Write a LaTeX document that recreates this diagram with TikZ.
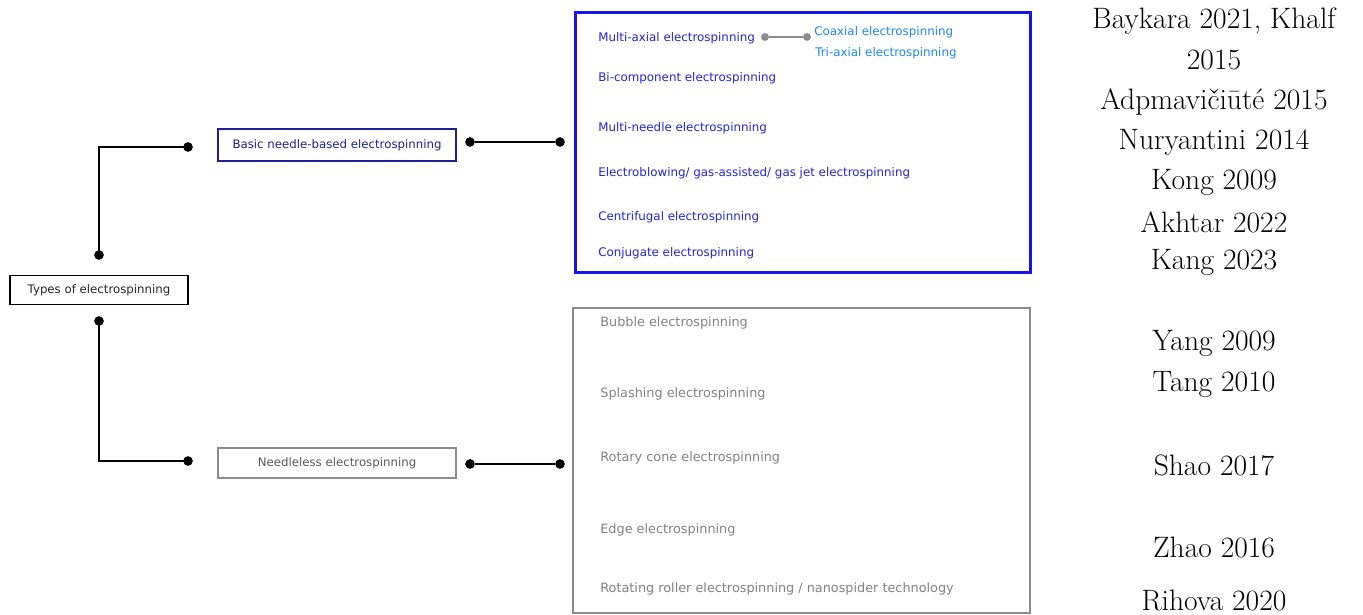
\documentclass[tikz,border=0pt]{standalone}
\usepackage{fontspec}
\newfontfamily\diafont{DejaVu Sans}
\usetikzlibrary{positioning}
\definecolor{navyline}{RGB}{30,30,150}
\definecolor{brightblue}{RGB}{20,20,235}
\definecolor{itemblue}{RGB}{35,35,225}
\definecolor{skyblue}{RGB}{25,135,250}
\definecolor{greyline}{RGB}{140,140,140}
\definecolor{greytext}{RGB}{130,130,130}

\begin{document}
\begin{tikzpicture}[x=0.02cm, y=-0.02cm,
  box/.style={rectangle, draw, line width=1pt, inner sep=0pt, font=\diafont\fontsize{6.7}{8}\selectfont},
  item/.style={anchor=west, inner sep=0pt, font=\diafont\fontsize{6.75}{8}\selectfont, text=itemblue},
  gitem/.style={anchor=west, inner sep=0pt, font=\diafont\fontsize{7.3}{8}\selectfont, text=greytext},
  dot/.style={circle, fill=black, inner sep=0pt, minimum size=5.5pt},
  sdot/.style={circle, fill=greyline, inner sep=0pt, minimum size=4.5pt},
  link/.style={line width=1.1pt},
  ref/.style={font=\fontsize{16.8}{19}\selectfont, inner sep=0pt}]
  \useasboundingbox (0,0) rectangle (1363,615);

  % left boxes
  \node[box, minimum width=3.56cm, minimum height=0.58cm, text=black!85] (types) at (99,290) {Types of electrospinning};
  \node[box, draw=navyline, minimum width=4.76cm, minimum height=0.64cm, text=navyline] (basic) at (337,145) {Basic needle-based electrospinning};
  \node[box, draw=greyline, minimum width=4.76cm, minimum height=0.6cm, text=black!65] (needleless) at (337,463) {Needleless electrospinning};

  % connectors
  \node[dot] (tup) at (99,255) {};
  \node[dot] (tdown) at (99,321) {};
  \node[dot] (bin) at (188,147) {};
  \node[dot] (nin) at (188,461) {};
  \node[dot] (bout) at (470,142) {};
  \node[dot] (bgrp) at (560,142) {};
  \node[dot] (nout) at (470,464) {};
  \node[dot] (ngrp) at (560,464) {};
  \draw[link] (tup.center) |- (bin.center);
  \draw[link] (tdown.center) |- (nin.center);
  \draw[link] (bout) -- (bgrp);
  \draw[link] (nout) -- (ngrp);

  % needle-based group
  \node[draw=brightblue, line width=1.7pt, minimum width=9.12cm, minimum height=5.22cm] (needlegrp) at (803,142.5) {};
  \node[item] (multiaxial) at (598,38) {Multi-axial electrospinning};
  \node[item] (bicomp) at (598,78) {Bi-component electrospinning};
  \node[item] (multineedle) at (598,128) {Multi-needle electrospinning};
  \node[item] (blowing) at (598,173) {Electroblowing/ gas-assisted/ gas jet electrospinning};
  \node[item] (centri) at (598,217) {Centrifugal electrospinning};
  \node[item] (conj) at (598,253) {Conjugate electrospinning};
  \node[sdot] (mxa) at (765,37) {};
  \node[sdot] (mxb) at (807,37) {};
  \draw[greyline, line width=1pt] (mxa) -- (mxb);
  \node[item, text=skyblue] (coax) at (814,32) {Coaxial electrospinning};
  \node[item, text=skyblue] (triax) at (815,53) {Tri-axial electrospinning};

  % needleless group
  \node[draw=greyline, line width=1.4pt, minimum width=9.14cm, minimum height=6.1cm] (freegrp) at (801.5,460.5) {};
  \node[gitem] (bubble) at (600,323) {Bubble electrospinning};
  \node[gitem] (splash) at (600,394) {Splashing electrospinning};
  \node[gitem] (cone) at (600,458) {Rotary cone electrospinning};
  \node[gitem] (edge) at (600,530) {Edge electrospinning};
  \node[gitem] (roller) at (600,589) {Rotating roller electrospinning / nanospider technology};

  % references
  \node[ref] (r1) at (1214,21) {Baykara 2021, Khalf};
  \node[ref] (r2) at (1214,60) {2015};
  \node[ref] (r3) at (1214,102) {Adpmavičiūté 2015};
  \node[ref] (r4) at (1214,142) {Nuryantini 2014};
  \node[ref] (r5) at (1214,182) {Kong 2009};
  \node[ref] (r6) at (1214,222) {Akhtar 2022};
  \node[ref] (r7) at (1214,262) {Kang 2023};
  \node[ref] (r8) at (1214,343) {Yang 2009};
  \node[ref] (r9) at (1214,384) {Tang 2010};
  \node[ref] (r10) at (1214,465) {Shao 2017};
  \node[ref] (r11) at (1214,547) {Zhao 2016};
  \node[ref] (r12) at (1214,600) {Rihova 2020};
\end{tikzpicture}
\end{document}
